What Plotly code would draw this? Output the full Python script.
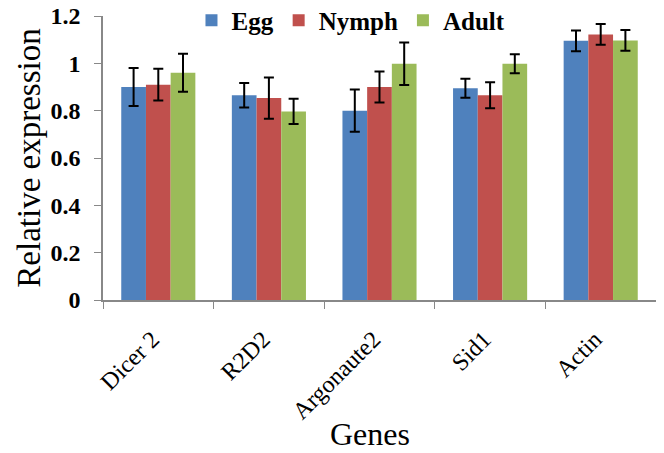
import plotly.graph_objects as go

genes = ["Dicer 2", "R2D2", "Argonaute2", "Sid1", "Actin"]
egg = [0.90, 0.865, 0.80, 0.895, 1.095]
egg_err = [0.08, 0.052, 0.089, 0.04, 0.044]
nymph = [0.91, 0.853, 0.90, 0.865, 1.122]
nymph_err = [0.067, 0.087, 0.066, 0.055, 0.044]
adult = [0.96, 0.797, 0.998, 0.998, 1.097]
adult_err = [0.08, 0.053, 0.09, 0.04, 0.044]

colors = {"Egg": "#4F81BD", "Nymph": "#C0504D", "Adult": "#9BBB59"}
serif = "Liberation Serif, Times New Roman, serif"

fig = go.Figure()
for name, vals, errs in [("Egg", egg, egg_err), ("Nymph", nymph, nymph_err), ("Adult", adult, adult_err)]:
    fig.add_trace(go.Bar(
        x=genes, y=vals, name=name,
        marker=dict(color=colors[name], line=dict(width=0)),
        error_y=dict(type="data", array=errs, visible=True, color="black", thickness=2, width=5),
    ))

# page body has an 8px margin, so the figure is sized/offset to compensate
fig.update_layout(
    width=656, height=445,
    margin=dict(l=95, r=8, t=8, b=153, autoexpand=False),
    paper_bgcolor="white", plot_bgcolor="white",
    barmode="group", bargap=0.33, bargroupgap=0,
    font=dict(family=serif, color="black"),
    legend=dict(orientation="h", x=0.16, y=0.984, xanchor="left", yanchor="middle",
                font=dict(size=25, family=serif, weight="bold"),
                bgcolor="rgba(0,0,0,0)", tracegroupgap=0),
    showlegend=True,
    annotations=[dict(text="Genes", xref="paper", yref="paper", x=0.483, y=-0.472,
                      xanchor="center", yanchor="middle", showarrow=False,
                      font=dict(size=32, family=serif, color="black"))],
)
fig.update_yaxes(
    range=[0, 1.2], dtick=0.2, showgrid=False, zeroline=False,
    showline=True, linecolor="#888888", linewidth=1.5,
    ticks="outside", ticklen=7, tickcolor="#888888",
    tickfont=dict(size=24, family=serif, weight="bold"),
    ticklabelstandoff=9, ticklabeloverflow="allow",
    title=dict(text="Relative expression", font=dict(size=33, family=serif), standoff=0),
)
fig.update_xaxes(
    showgrid=False, showline=True, linecolor="#888888", linewidth=1.5,
    ticks="outside", ticklen=7, tickcolor="#888888", tickson="boundaries",
    tickangle=-45, tickfont=dict(size=24, family=serif),
    ticklabelstandoff=14, ticklabelshift=-6, ticklabeloverflow="allow",
)

fig.write_html("out.html")
